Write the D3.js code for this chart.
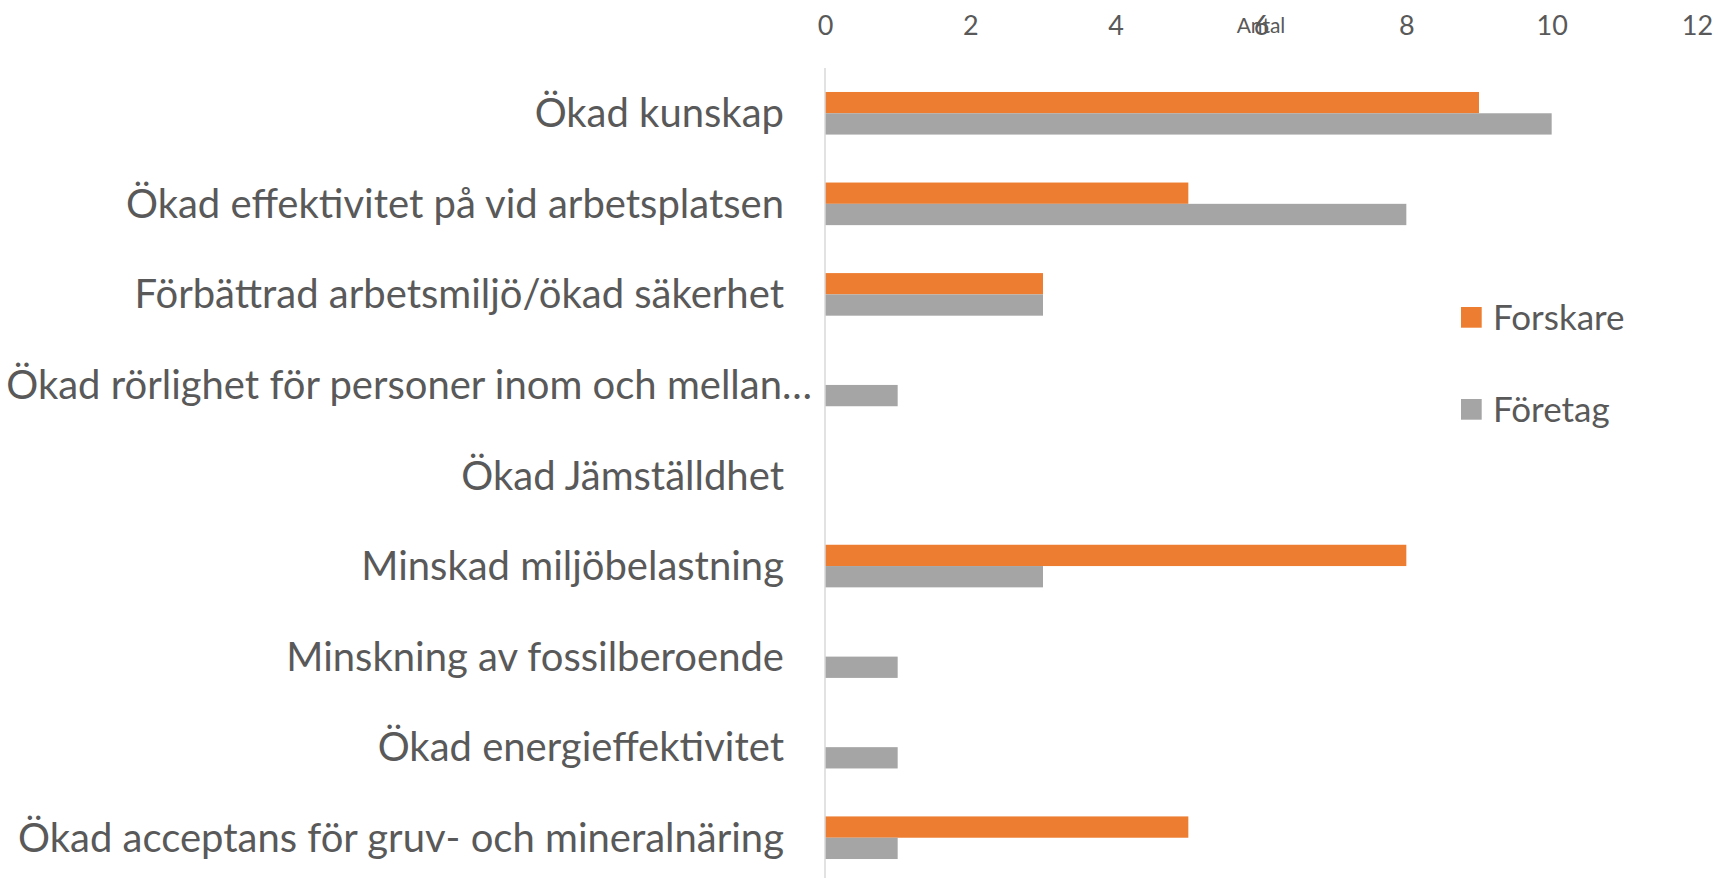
<!DOCTYPE html>
<html>
<head>
<meta charset="utf-8">
<script src="https://cdnjs.cloudflare.com/ajax/libs/d3/7.8.5/d3.min.js"></script>
<style>
  body { margin: 0; background: #fff; }
  svg { display: block; }
</style>
</head>
<body>
<script>
// chart values
var categories = [
  "Ökad kunskap",
  "Ökad effektivitet på vid arbetsplatsen",
  "Förbättrad arbetsmiljö/ökad säkerhet",
  "Ökad rörlighet för personer inom och mellan…",
  "Ökad Jämställdhet",
  "Minskad miljöbelastning",
  "Minskning av fossilberoende",
  "Ökad energieffektivitet",
  "Ökad acceptans för gruv- och mineralnäring"
];
var series = ["Forskare", "Företag"];
var forskare = [9, 5, 3, 0, 0, 8, 0, 0, 5];
var foretag = [10, 8, 3, 1, 0, 3, 1, 1, 1];
var ticks = [0, 2, 4, 6, 8, 10, 12];
var colors = ["#ED7D31", "#A5A5A5"];

var width = 1718, height = 878;
var textColor = "#595959";
var font = "Lato, 'Open Sans', sans-serif";

var svg = d3.select("body").append("svg")
  .attr("width", width)
  .attr("height", height);

var x = d3.scaleLinear().domain([0, 12]).range([825, 1697]);
var y = d3.scaleBand().domain(categories).range([68, 883]).padding(0);
var groupH = 42.6;
var yInner = d3.scaleBand().domain(series)
  .range([(y.bandwidth() - groupH) / 2, (y.bandwidth() + groupH) / 2]);

// top axis labels
var xAxis = d3.axisTop(x).tickValues(ticks).tickSize(0).tickPadding(0);
var gx = svg.append("g").attr("transform", "translate(0,26)").call(xAxis);
gx.select(".domain").remove();
gx.selectAll("text")
  .attr("dy", "0.35em")
  .attr("font-family", font)
  .attr("font-size", "27px")
  .attr("fill", textColor);

// axis title
svg.append("text")
  .attr("x", (x.range()[0] + x.range()[1]) / 2)
  .attr("y", 26)
  .attr("dy", "0.35em")
  .attr("text-anchor", "middle")
  .attr("font-family", font)
  .attr("font-size", "21px")
  .attr("fill", textColor)
  .text("Antal");

// bars
var rows = categories.map(function (c, i) {
  return { cat: c, vals: [forskare[i], foretag[i]] };
});
var g = svg.append("g");
var row = g.selectAll("g.row").data(rows).enter().append("g")
  .attr("class", "row")
  .attr("transform", function (d) { return "translate(0," + y(d.cat) + ")"; });
row.selectAll("rect")
  .data(function (d) { return d.vals.map(function (v, j) { return { s: series[j], v: v, j: j }; }); })
  .enter().append("rect")
  .attr("x", x(0))
  .attr("y", function (d) { return yInner(d.s); })
  .attr("width", function (d) { return x(d.v) - x(0); })
  .attr("height", yInner.bandwidth())
  .attr("fill", function (d) { return colors[d.j]; });

// category axis line
svg.append("line")
  .attr("x1", x(0)).attr("x2", x(0))
  .attr("y1", y.range()[0]).attr("y2", y.range()[1])
  .attr("stroke", "#D9D9D9")
  .attr("stroke-width", 1.5);

// category labels
svg.selectAll("text.cat").data(categories).enter().append("text")
  .attr("class", "cat")
  .attr("x", function (d) { return d.endsWith("…") ? x(0) - 13 : x(0) - 41; })
  .attr("y", function (d) { return y(d) + y.bandwidth() / 2; })
  .attr("dy", "0.35em")
  .attr("text-anchor", "end")
  .attr("font-family", font)
  .attr("font-size", "40px")
  .attr("fill", textColor)
  .text(function (d) { return d; });

// legend
var legend = svg.append("g").attr("transform", "translate(1461,307)");
var li = legend.selectAll("g").data(series).enter().append("g")
  .attr("transform", function (d, i) { return "translate(0," + i * 92 + ")"; });
li.append("rect")
  .attr("width", 20.7).attr("height", 20.7)
  .attr("fill", function (d, i) { return colors[i]; });
li.append("text")
  .attr("x", 32)
  .attr("y", 10.5)
  .attr("dy", "0.35em")
  .attr("font-family", font)
  .attr("font-size", "35px")
  .attr("fill", textColor)
  .text(function (d) { return d; });
</script>
</body>
</html>
